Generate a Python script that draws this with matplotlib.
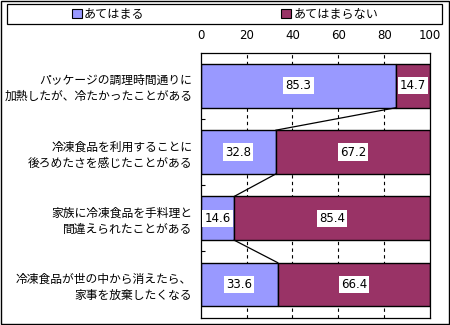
import matplotlib
matplotlib.use("Agg")
import matplotlib.pyplot as plt
from matplotlib.patches import Patch, Rectangle

plt.rcParams['font.family'] = ['Noto Sans CJK JP', 'DejaVu Sans']

categories = [
    "パッケージの調理時間通りに\n加熱したが、冷たかったことがある",
    "冷凍食品を利用することに\n後ろめたさを感じたことがある",
    "家族に冷凍食品を手料理と\n間違えられたことがある",
    "冷凍食品が世の中から消えたら、\n家事を放棄したくなる",
]
yes_vals = [85.3, 32.8, 14.6, 33.6]
no_vals = [14.7, 67.2, 85.4, 66.4]
series_names = ["あてはまる", "あてはまらない"]
xticks = [0, 20, 40, 60, 80, 100]

c_yes = "#9999FF"
c_no = "#993366"
bar_h = 0.66

fig = plt.figure(figsize=(4.5, 3.25), dpi=100)
ax = fig.add_axes([0.446, 0.0225, 0.5096, 0.8155])

ypos = list(range(len(categories)))
ax.barh(ypos, yes_vals, height=bar_h, color=c_yes, edgecolor="black", linewidth=1)
ax.barh(ypos, no_vals, left=yes_vals, height=bar_h, color=c_no, edgecolor="black", linewidth=1)

# series lines between bars
for i in range(len(yes_vals) - 1):
    ax.plot([yes_vals[i], yes_vals[i + 1]], [i + bar_h / 2, i + 1 - bar_h / 2],
            color="black", linewidth=0.9, zorder=3)

# value labels
box = dict(facecolor="white", edgecolor="none", pad=1.5)
for i in ypos:
    ax.text(yes_vals[i] / 2, i, f"{yes_vals[i]:.1f}", ha="center", va="center",
            fontsize=8.5, family="DejaVu Sans", bbox=box, zorder=4)
    ax.text(yes_vals[i] + no_vals[i] / 2, i, f"{no_vals[i]:.1f}", ha="center", va="center",
            fontsize=8.5, family="DejaVu Sans", bbox=box, zorder=4)

ax.set_xlim(0, 100)
ax.set_ylim(len(categories) - 0.5, -0.5)
ax.xaxis.tick_top()
ax.set_xticks(xticks)
ax.set_xticklabels([str(t) for t in xticks], fontsize=8.5, family="DejaVu Sans")
ax.tick_params(axis="x", length=0, pad=8)
for t in xticks[1:-1]:
    ax.axvline(t, color="black", linestyle=(0, (3, 3)), linewidth=0.8, zorder=0)

ax.set_yticks(ypos)
ax.set_yticklabels(categories, fontsize=8.5, linespacing=1.3)
ax.tick_params(axis="y", length=0, pad=6)
ax.set_yticks([i + 0.5 for i in ypos[:-1]], minor=True)
ax.tick_params(axis="y", which="minor", direction="in", length=3, width=0.8)
for s in ax.spines.values():
    s.set_linewidth(0.9)

# legend with full-width frame
fig.patches.append(Rectangle((7 / 450, 1 - 24 / 325), 435 / 450, 20 / 325,
                             transform=fig.transFigure, facecolor="white",
                             edgecolor="black", linewidth=0.9))
handles = [Patch(facecolor=c_yes, edgecolor="black", linewidth=0.8),
           Patch(facecolor=c_no, edgecolor="black", linewidth=0.8)]
fig.legend(handles, series_names, loc="center", bbox_to_anchor=(0.5, 1 - 14 / 325),
           ncol=2, frameon=False, fontsize=8.7, handlelength=0.8, handleheight=0.8,
           handletextpad=0.2, columnspacing=11.3, borderpad=0)

# outer border
fig.patches.append(Rectangle((0.002, 0.003), 0.995, 0.994, transform=fig.transFigure,
                             facecolor="none", edgecolor="black", linewidth=1))

fig.savefig("out.png", dpi=100)
